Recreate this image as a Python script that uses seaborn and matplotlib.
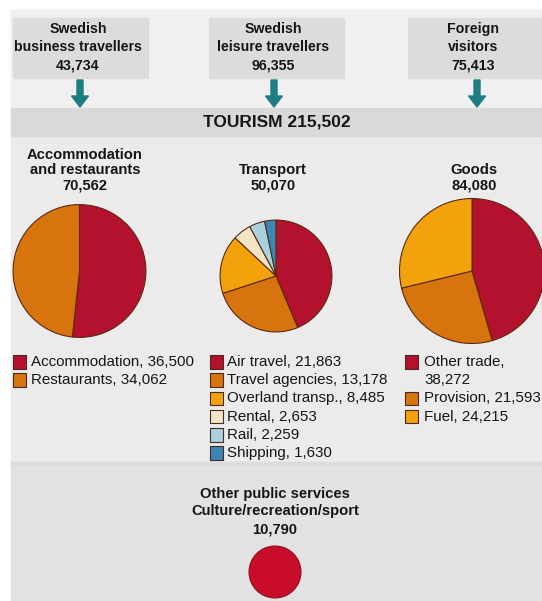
import numpy as np
import pandas as pd
import matplotlib
matplotlib.use("Agg")
import matplotlib.pyplot as plt
import seaborn as sns
from matplotlib.patches import Rectangle, FancyArrow

# --- chart data ---
source_labels = ["Swedish\nbusiness travellers", "Swedish\nleisure travellers", "Foreign\nvisitors"]
source_values = [43734, 96355, 75413]
tourism_total = 215502

group_titles = ["Accommodation\nand restaurants", "Transport", "Goods"]
group_totals = [70562, 50070, 84080]

accom_labels = ["Accommodation", "Restaurants"]
accom_values = [36500, 34062]

transport_labels = ["Air travel", "Travel agencies", "Overland transp.", "Rental", "Rail", "Shipping"]
transport_values = [21863, 13178, 8485, 2653, 2259, 1630]

goods_labels = ["Other trade", "Provision", "Fuel"]
goods_values = [38272, 21593, 24215]

other_title = "Other public services\nCulture/recreation/sport"
other_value = 10790

# --- styling ---
RED = "#b3112d"
ORANGE = "#d8740e"
YELLOW = "#f4a20c"
CREAM = "#f4e5c6"
LBLUE = "#a9d2de"
BLUE = "#3a86b6"
accom_colors = [RED, ORANGE]
transport_colors = [RED, ORANGE, YELLOW, CREAM, LBLUE, BLUE]
goods_colors = [RED, ORANGE, YELLOW]
TEAL = "#1e7c85"
TXT = "#161616"
FONT = "Liberation Sans"

W, H = 542, 601


def Y(y):
    # pixel row (top down) -> data y (bottom up)
    return H - y


def fmt(v):
    return f"{v:,}"


sns.set_theme(style="white")
plt.rcParams["font.family"] = [FONT, "DejaVu Sans"]

fig = plt.figure(figsize=(W / 100, H / 100), dpi=100, facecolor="white")
ax = fig.add_axes([0, 0, 1, 1])
ax.axis("off")

# background panels
ax.add_patch(Rectangle((11, 0), W - 11, Y(10), color="#ebebeb", zorder=0))
ax.add_patch(Rectangle((11, Y(108)), W - 11, 98, color="#f0f0f0", zorder=0))
ax.add_patch(Rectangle((11, Y(136)), W - 11, 28, color="#d9d9d9", zorder=1))
ax.add_patch(Rectangle((11, 0), W - 11, Y(462), color="#e2e2e2", zorder=1))
ax.add_patch(Rectangle((11, Y(465)), W - 11, 3, color="#dcdcdc", zorder=1))

# source boxes + arrows
box_x = [(13, 148), (209, 344), (408, 545)]
text_cx = [78, 273, 473]
arrow_x = [80, 274, 477]
for (x0, x1), cx, axx, lab, val in zip(box_x, text_cx, arrow_x, source_labels, source_values):
    ax.add_patch(Rectangle((x0, Y(78)), x1 - x0, 60, color="#dcdcdc", zorder=1))
    lines = lab.split("\n") + [fmt(val)]
    for i, line in enumerate(lines):
        ax.text(cx, Y(29 + 18 * i), line, ha="center", va="center", fontsize=10.2,
                fontweight="bold", color=TXT, zorder=3)
    ax.add_patch(FancyArrow(axx, Y(80), 0, -27, width=6, head_width=17, head_length=11,
                            length_includes_head=True, color=TEAL, zorder=3))

ax.text(277, Y(122), f"TOURISM {fmt(tourism_total)}", ha="center", va="center",
        fontsize=12.5, fontweight="bold", color=TXT, zorder=3)

# group titles
title_cx = [85, 273, 474]
for cx, title, total in zip(title_cx, group_titles, group_totals):
    lines = title.split("\n") + [fmt(total)]
    n = len(lines)
    for i, line in enumerate(lines):
        ax.text(cx, Y(185 - 15 * (n - 1 - i)), line, ha="center", va="center",
                fontsize=10.6, fontweight="bold", color=TXT, zorder=3)

# pies, area proportional to group total
SCALE = 0.25
pie_centers = [(79.5, 271), (276, 276), (472, 271)]
pie_sets = [(accom_values, accom_colors), (transport_values, transport_colors),
            (goods_values, goods_colors)]
for (cx, cy), (vals, cols), total in zip(pie_centers, pie_sets, group_totals):
    ax.pie(vals, colors=cols, startangle=90, counterclock=False, center=(cx, Y(cy)),
           radius=SCALE * np.sqrt(total), frame=True,
           wedgeprops=dict(edgecolor="#5a2a12", linewidth=0.8, zorder=4))

ax.pie([other_value], colors=["#c80c2a"], startangle=90, center=(275, Y(572)),
       radius=SCALE * np.sqrt(other_value), frame=True,
       wedgeprops=dict(edgecolor="#8c1222", linewidth=0.8, zorder=4))

# legends
ROW0, ROW_H = 362, 18.2
legend_rows = []
for i, (lab, val, col) in enumerate(zip(accom_labels, accom_values, accom_colors)):
    legend_rows.append((19.5, 31, i, f"{lab}, {fmt(val)}", col))
for i, (lab, val, col) in enumerate(zip(transport_labels, transport_values, transport_colors)):
    legend_rows.append((216.5, 227, i, f"{lab}, {fmt(val)}", col))
goods_rows = [0, 2, 3]
for r, lab, val, col in zip(goods_rows, goods_labels, goods_values, goods_colors):
    text = f"{lab},\n{fmt(val)}" if r == 0 else f"{lab}, {fmt(val)}"
    legend_rows.append((411.5, 424, r, text, col))

leg = pd.DataFrame(legend_rows, columns=["sx", "tx", "row", "text", "color"])
leg["sy"] = Y(ROW0 + ROW_H * leg["row"])
leg["key"] = leg.index.astype(str)
sns.scatterplot(data=leg, x="sx", y="sy", hue="key", palette=dict(zip(leg["key"], leg["color"])),
                marker="s", s=95, edgecolor="#4a2a22", linewidth=0.8, legend=False,
                ax=ax, zorder=5)
for _, r in leg.iterrows():
    for j, line in enumerate(r["text"].split("\n")):
        ax.text(r["tx"], Y(ROW0 + ROW_H * (r["row"] + j)), line, ha="left", va="center",
                fontsize=10.9, color=TXT, zorder=5)

# bottom group
bl = other_title.split("\n") + [fmt(other_value)]
for i, line in enumerate(bl):
    ax.text(275, Y(494 + 17.5 * i), line, ha="center", va="center", fontsize=10.6,
            fontweight="bold", color=TXT, zorder=3)

ax.set_xlim(0, W)
ax.set_ylim(0, H)
ax.set_aspect("auto")
ax.axis("off")
ax.set_xlabel("")
ax.set_ylabel("")

fig.savefig("out.png", dpi=100, facecolor="white")
